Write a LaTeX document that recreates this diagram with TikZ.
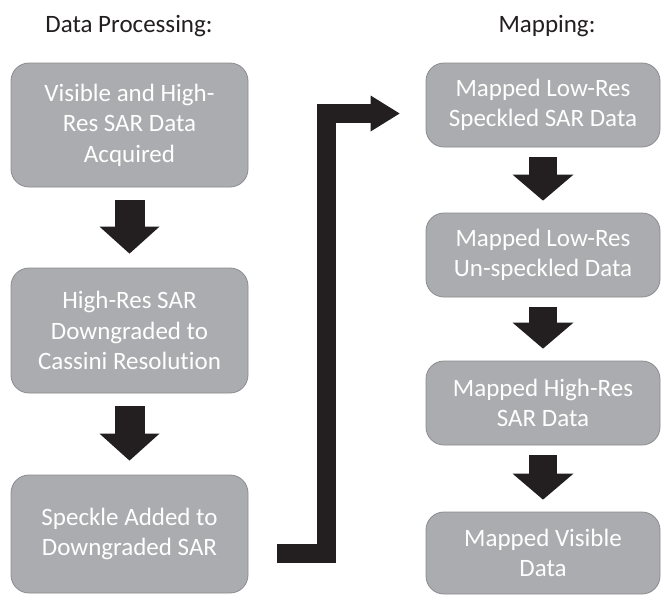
\documentclass[tikz,border=0pt]{standalone}
\usepackage{fontspec}
\setmainfont{Carlito}[Ligatures=NoCommon]
\usetikzlibrary{arrows.meta,positioning,calc}
\definecolor{boxgray}{RGB}{171,172,175}
\definecolor{boxedge}{RGB}{138,139,142}
\definecolor{arrowblack}{RGB}{35,31,32}

\begin{document}
\begin{tikzpicture}[x=1pt, y=-1pt,
  font=\fontsize{25}{30.5}\selectfont,
  every node/.style={align=center},
  stepbox/.style={draw=boxedge, line width=0.8pt, fill=boxgray,
                  rounded corners=18pt, text=white, inner sep=0pt},
  procbox/.style={stepbox, minimum width=237pt},
  mapbox/.style={stepbox, minimum width=234pt, minimum height=84pt},
  title/.style={text=arrowblack},
  fatarr/.style={draw=arrowblack, line width=30pt,
                 -{Triangle[length=27pt, width=60pt, line width=0pt]},
                 shorten <=13pt, shorten >=14pt},
  mapfatarr/.style={draw=arrowblack, line width=28pt,
                 -{Triangle[length=26pt, width=61pt, line width=0pt]},
                 shorten <=10pt, shorten >=12pt},
  elbowarr/.style={draw=arrowblack, line width=19pt,
                 -{Triangle[length=29pt, width=36pt, line width=0pt]}}
]
\useasboundingbox (0,0) rectangle (663,595);

%% Titles
\node[title] (proctitle) at (129,26) {Data Processing:};
\node[title] (maptitle)  at (547,26) {Mapping:};

%% Data processing column
\node[procbox, minimum height=124pt] (acq)   at (129.5,125)   {Visible and High-\\Res SAR Data\\Acquired};
\node[procbox, minimum height=125pt] (down)  at (129.5,330.5) {High-Res SAR\\Downgraded to\\Cassini Resolution};
\node[procbox, minimum height=118pt] (speck) at (129.5,534)   {Speckle Added to\\Downgraded SAR};

%% Mapping column
\node[mapbox] (mspeck)  at (543,105)   {Mapped Low-Res\\Speckled SAR Data};
\node[mapbox] (munspk)  at (543,255)   {Mapped Low-Res\\Un-speckled Data};
\node[mapbox] (mhigh)   at (543,403)   {Mapped High-Res\\SAR Data};
\node[mapbox, minimum height=82pt] (mvis) at (543,553) {Mapped Visible\\Data};

%% Column arrows
\draw[fatarr] (acq.south)  -- (down.north);
\draw[fatarr] (down.south) -- (speck.north);
\draw[mapfatarr] (mspeck.south) -- (munspk.north);
\draw[mapfatarr] (munspk.south) -- (mhigh.north);
\draw[mapfatarr] (mhigh.south)  -- (mvis.north);

%% Hand-over arrow
\coordinate (elbowstart) at ([xshift=29pt, yshift=-19.5pt]speck.east);
\coordinate (elbowend)   at ([xshift=-26pt, yshift=-8.5pt]mspeck.west);
\coordinate (elbowturn)  at (326.5,113.5);
\draw[elbowarr] (elbowstart) -| (elbowturn) -- (elbowend);

\end{tikzpicture}
\end{document}
